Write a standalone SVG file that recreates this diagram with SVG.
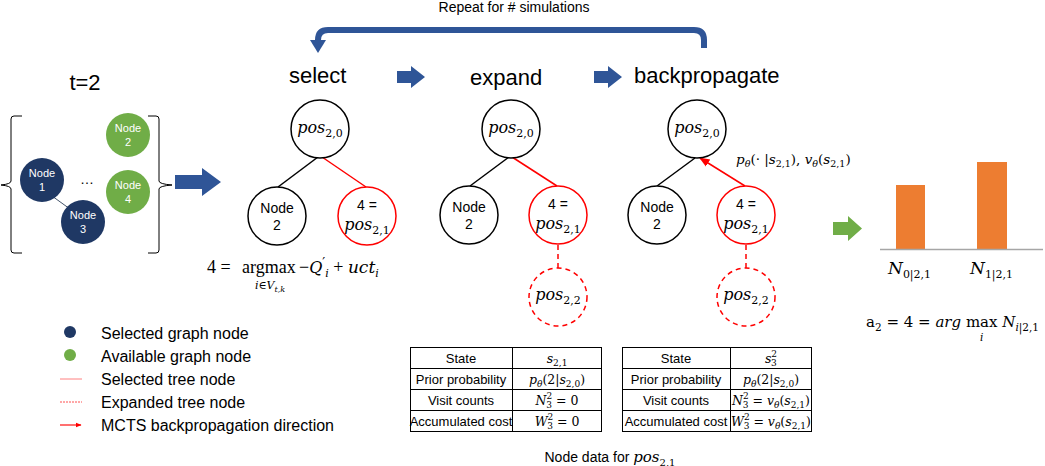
<svg xmlns="http://www.w3.org/2000/svg" width="1045" height="466" viewBox="0 0 1045 466">
<defs>
<style>
.sans{font-family:"Liberation Sans",Arial,sans-serif;fill:#000}
.math{font-family:"DejaVu Serif","Liberation Serif",serif;font-style:italic;fill:#000}
.rm{font-style:normal}
.ser{font-family:"Liberation Serif","Times New Roman",serif;font-style:normal;fill:#000}
.title{font-size:22px}
.tn{fill:#fff;stroke:#000;stroke-width:1.5}
.tr{fill:#fff;stroke:#ff0000;stroke-width:1.5}
.td{fill:#fff;stroke:#ff0000;stroke-width:1.5;stroke-dasharray:5,4}
.edge{stroke:#000;stroke-width:1.5;fill:none}
.redge{stroke:#ff0000;stroke-width:1.5;fill:none}
.gsel{fill:#1f3864}
.gav{fill:#70ad47}
.gt{font-family:"Liberation Sans",Arial,sans-serif;font-size:11px;fill:#fff;text-anchor:middle}
.nt{font-family:"Liberation Sans",Arial,sans-serif;font-size:14px;fill:#000;text-anchor:middle}
.blue{fill:#2f5597}
.tbl{fill:#fff;stroke:#000;stroke-width:1}
.tc{font-family:"Liberation Sans",Arial,sans-serif;font-size:13px;text-anchor:middle}
.tm{font-family:"DejaVu Serif","Liberation Serif",serif;font-style:italic;font-size:12.5px;text-anchor:middle}
.leg{font-family:"Liberation Sans",Arial,sans-serif;font-size:16px;fill:#000}
.pos{font-family:"DejaVu Serif","Liberation Serif",serif;font-style:italic;font-size:16px;text-anchor:middle}
</style>
<marker id="redArr" viewBox="0 0 10 10" refX="9" refY="5" markerWidth="7" markerHeight="7" orient="auto">
<path d="M0,1 L10,5 L0,9 z" fill="#ff0000"/>
</marker>
<marker id="legArr" viewBox="0 0 10 10" refX="9" refY="5" markerWidth="3" markerHeight="3" orient="auto">
<path d="M0,1 L10,5 L0,9 z" fill="#ff0000"/>
</marker>
</defs>
<rect width="1045" height="466" fill="#fff"/>

<!-- top loop arrow -->
<g id="loop">
<text class="sans" x="514" y="12" font-size="14" text-anchor="middle">Repeat for # simulations</text>
<path d="M704,48 V40 Q704,30 694,30 H328 Q318,30 318,40 V42" fill="none" stroke="#2f5597" stroke-width="6"/>
<polygon class="blue" points="310,40 326,40 318,53"/>
</g>

<!-- step titles -->
<g id="titles">
<text class="sans title" x="289" y="83">select</text>
<text class="sans title" x="470" y="85">expand</text>
<text class="sans title" x="634" y="83">backpropagate</text>
<polygon class="blue" points="397,71 411,71 411,66 425,77 411,88 411,83 397,83"/>
<polygon class="blue" points="594,71 608,71 608,66 622,77 608,88 608,83 594,83"/>
</g>

<!-- left graph state -->
<g id="state">
<text class="sans" x="85" y="90" font-size="22" text-anchor="middle">t=2</text>
<path d="M22,116 H14 Q11,116 11,119 V181 Q11,184 1,185 Q11,186 11,189 V250 Q11,253 14,253 H22" fill="none" stroke="#000" stroke-width="1"/>
<path d="M148,116 H156 Q159,116 159,119 V181 Q159,184 172,185 Q159,186 159,189 V250 Q159,253 156,253 H148" fill="none" stroke="#000" stroke-width="1"/>
<line x1="52" y1="196" x2="70" y2="209" stroke="#44546a" stroke-width="1"/>
<text class="sans" x="87" y="184" font-size="14" text-anchor="middle">…</text>
</g>
<g id="gnode1"><circle class="gsel" cx="42" cy="180" r="22"/><text class="gt" x="42" y="177">Node</text><text class="gt" x="42" y="191">1</text></g>
<g id="gnode3"><circle class="gsel" cx="83" cy="222" r="22"/><text class="gt" x="83" y="219">Node</text><text class="gt" x="83" y="233">3</text></g>
<g id="gnode2"><circle class="gav" cx="128" cy="135" r="22"/><text class="gt" x="128" y="132">Node</text><text class="gt" x="128" y="146">2</text></g>
<g id="gnode4"><circle class="gav" cx="128" cy="192" r="22"/><text class="gt" x="128" y="189">Node</text><text class="gt" x="128" y="203">4</text></g>
<g id="bigArrow"><polygon class="blue" points="175,175 202,175 202,168 221,182 202,196 202,189 175,189"/></g>

<!-- connectors -->
<g id="connectors">
<line class="edge" x1="318" y1="157" x2="278" y2="187"/>
<line class="redge" x1="322" y1="157" x2="366" y2="187"/>
<line class="edge" x1="509" y1="157" x2="470" y2="186"/>
<line class="redge" x1="512" y1="157" x2="557" y2="186"/>
<line class="redge" x1="558" y1="245" x2="558" y2="268" stroke-dasharray="5,4"/>
<line class="edge" x1="695" y1="158" x2="657" y2="186"/>
<line class="redge" x1="745" y1="186" x2="700" y2="158" marker-end="url(#redArr)"/>
<line class="redge" x1="746" y1="245" x2="746" y2="268" stroke-dasharray="5,4"/>
<polygon points="833,222 848,222 848,216 862,228.5 848,241 848,235 833,235" fill="#70ad47"/>
</g>

<!-- select tree -->
<g id="sel_root"><circle class="tn" cx="320" cy="129" r="29"/><text class="pos" x="320" y="133">pos<tspan class="rm" font-size="11" dy="4">2,0</tspan></text></g>
<g id="sel_n2"><circle class="tn" cx="277" cy="216" r="29"/><text class="nt" x="277" y="213">Node</text><text class="nt" x="277" y="230">2</text></g>
<g id="sel_n4"><circle class="tr" cx="367" cy="216" r="29"/><text class="nt" x="367" y="210">4 =</text><text class="pos" x="367" y="230">pos<tspan class="rm" font-size="11" dy="4">2,1</tspan></text></g>
<g id="sel_formula">
<text class="ser" x="207" y="273" font-size="18">4 =</text>
<text class="ser" x="242" y="273" font-size="18">argmax</text>
<text class="math" x="299" y="273" font-size="16"><tspan class="ser" font-size="18">−</tspan>Q<tspan class="rm" font-size="13" dy="-6">′</tspan><tspan font-size="11" dx="0" dy="10">i</tspan><tspan class="ser" font-size="18" dy="-4"> + </tspan><tspan font-size="17">uct</tspan><tspan font-size="11" dy="4">i</tspan></text>
<text class="math" x="270" y="289" font-size="11" text-anchor="middle">i<tspan class="rm">∈</tspan>V<tspan font-size="8" dy="3">t,k</tspan></text>
</g>

<!-- expand tree -->
<g id="exp_root"><circle class="tn" cx="511" cy="129" r="29"/><text class="pos" x="511" y="133">pos<tspan class="rm" font-size="11" dy="4">2,0</tspan></text></g>
<g id="exp_n2"><circle class="tn" cx="469" cy="215" r="29"/><text class="nt" x="469" y="212">Node</text><text class="nt" x="469" y="229">2</text></g>
<g id="exp_n4"><circle class="tr" cx="558" cy="215" r="29"/><text class="nt" x="558" y="209">4 =</text><text class="pos" x="558" y="229">pos<tspan class="rm" font-size="11" dy="4">2,1</tspan></text></g>
<g id="exp_n22"><circle class="td" cx="558" cy="297" r="29"/><text class="pos" x="558" y="300">pos<tspan class="rm" font-size="11" dy="4">2,2</tspan></text></g>

<!-- backprop tree -->
<g id="bp_root"><circle class="tn" cx="697" cy="129" r="29"/><text class="pos" x="697" y="133">pos<tspan class="rm" font-size="11" dy="4">2,0</tspan></text></g>
<g id="bp_n2"><circle class="tn" cx="657" cy="215" r="29"/><text class="nt" x="657" y="212">Node</text><text class="nt" x="657" y="229">2</text></g>
<g id="bp_n4"><circle class="tr" cx="746" cy="215" r="29"/><text class="nt" x="746" y="209">4 =</text><text class="pos" x="746" y="229">pos<tspan class="rm" font-size="11" dy="4">2,1</tspan></text></g>
<g id="bp_n22"><circle class="td" cx="746" cy="297" r="29"/><text class="pos" x="746" y="300">pos<tspan class="rm" font-size="11" dy="4">2,2</tspan></text></g>
<g id="bp_label"><text class="math" x="736" y="164" font-size="13.5">p<tspan font-size="9.5" dy="3">θ</tspan><tspan class="rm" dy="-3">(· |</tspan>s<tspan font-size="9.5" class="rm" dy="3">2,1</tspan><tspan class="rm" dy="-3">), </tspan>v<tspan font-size="9.5" dy="3">θ</tspan><tspan class="rm" dy="-3">(</tspan>s<tspan font-size="9.5" class="rm" dy="3">2,1</tspan><tspan class="rm" dy="-3">)</tspan></text></g>

<!-- bar chart -->
<g id="chart">
<rect x="896" y="185" width="29" height="64" fill="#ed7d31"/>
<rect x="977" y="162" width="30" height="87" fill="#ed7d31"/>
<line x1="880" y1="249.5" x2="1043" y2="249.5" stroke="#a6a6a6" stroke-width="1.5"/>
<text class="math" x="888" y="274" font-size="17">N<tspan class="rm" font-size="11" dy="4">0|2,1</tspan></text>
<text class="math" x="970" y="274" font-size="17">N<tspan class="rm" font-size="11" dy="4">1|2,1</tspan></text>
<text class="math" x="866" y="327" font-size="15"><tspan class="rm">a</tspan><tspan class="rm" font-size="10.5" dy="4">2</tspan><tspan class="rm" dy="-4"> = 4 = </tspan>arg<tspan class="rm"> max </tspan>N<tspan font-size="10.5" dy="4">i<tspan class="rm">|2,1</tspan></tspan></text>
<text class="math" x="980" y="341" font-size="10.5">i</text>
</g>

<!-- tables -->
<g id="table1">
<rect class="tbl" x="410.5" y="347.5" width="191" height="84"/>
<line x1="410.5" y1="368.5" x2="601.5" y2="368.5" stroke="#000"/>
<line x1="410.5" y1="389.5" x2="601.5" y2="389.5" stroke="#000"/>
<line x1="410.5" y1="410.5" x2="601.5" y2="410.5" stroke="#000"/>
<line x1="512.5" y1="347.5" x2="512.5" y2="431.5" stroke="#000"/>
<text class="tc" x="461" y="363">State</text>
<text class="tc" x="461" y="384">Prior probability</text>
<text class="tc" x="461" y="405">Visit counts</text>
<text class="tc" x="461" y="426">Accumulated cost</text>
<text class="tm" x="557" y="363">s<tspan class="rm" font-size="9" dy="3">2,1</tspan></text>
<text class="tm" x="557" y="384">p<tspan font-size="9" dy="3">θ</tspan><tspan class="rm" dy="-3">(2|</tspan>s<tspan class="rm" font-size="9" dy="3">2,0</tspan><tspan class="rm" dy="-3">)</tspan></text>
<text class="tm" x="557" y="405">N<tspan class="rm" font-size="9" dy="-6">2</tspan><tspan class="rm" font-size="9" dx="-6" dy="9">3</tspan><tspan class="rm" dy="-3"> = 0</tspan></text>
<text class="tm" x="557" y="426">W<tspan class="rm" font-size="9" dy="-6">2</tspan><tspan class="rm" font-size="9" dx="-6" dy="9">3</tspan><tspan class="rm" dy="-3"> = 0</tspan></text>
</g>
<g id="table2">
<rect class="tbl" x="622.5" y="347.5" width="189" height="84"/>
<line x1="622.5" y1="368.5" x2="811.5" y2="368.5" stroke="#000"/>
<line x1="622.5" y1="389.5" x2="811.5" y2="389.5" stroke="#000"/>
<line x1="622.5" y1="410.5" x2="811.5" y2="410.5" stroke="#000"/>
<line x1="730.5" y1="347.5" x2="730.5" y2="431.5" stroke="#000"/>
<text class="tc" x="676" y="363">State</text>
<text class="tc" x="676" y="384">Prior probability</text>
<text class="tc" x="676" y="405">Visit counts</text>
<text class="tc" x="676" y="426">Accumulated cost</text>
<text class="tm" x="771" y="363">s<tspan class="rm" font-size="9" dy="-6">2</tspan><tspan class="rm" font-size="9" dx="-6" dy="9">3</tspan></text>
<text class="tm" x="771" y="384">p<tspan font-size="9" dy="3">θ</tspan><tspan class="rm" dy="-3">(2|</tspan>s<tspan class="rm" font-size="9" dy="3">2,0</tspan><tspan class="rm" dy="-3">)</tspan></text>
<text class="tm" x="771" y="405">N<tspan class="rm" font-size="9" dy="-6">2</tspan><tspan class="rm" font-size="9" dx="-6" dy="9">3</tspan><tspan class="rm" dy="-3"> = </tspan>v<tspan font-size="9" dy="3">θ</tspan><tspan class="rm" dy="-3">(</tspan>s<tspan class="rm" font-size="9" dy="3">2,1</tspan><tspan class="rm" dy="-3">)</tspan></text>
<text class="tm" x="771" y="426">W<tspan class="rm" font-size="9" dy="-6">2</tspan><tspan class="rm" font-size="9" dx="-6" dy="9">3</tspan><tspan class="rm" dy="-3"> = </tspan>v<tspan font-size="9" dy="3">θ</tspan><tspan class="rm" dy="-3">(</tspan>s<tspan class="rm" font-size="9" dy="3">2,1</tspan><tspan class="rm" dy="-3">)</tspan></text>
<text class="sans" x="610" y="462" font-size="14" text-anchor="middle">Node data for <tspan class="math" font-size="15">pos</tspan><tspan class="math rm" font-size="10" dy="4">2,1</tspan></text>
</g>

<!-- legend -->
<g id="legend">
<circle class="gsel" cx="70" cy="332" r="6"/>
<circle class="gav" cx="70" cy="355" r="6"/>
<line x1="60" y1="379" x2="82" y2="379" stroke="#ff8080" stroke-width="1"/>
<line x1="60" y1="402" x2="82" y2="402" stroke="#ff5050" stroke-width="1" stroke-dasharray="2,1"/>
<line x1="60" y1="425" x2="81" y2="425" stroke="#ff7070" stroke-width="2" marker-end="url(#legArr)"/>
<text class="leg" x="101" y="339">Selected graph node</text>
<text class="leg" x="101" y="362">Available graph node</text>
<text class="leg" x="101" y="385">Selected tree node</text>
<text class="leg" x="101" y="408">Expanded tree node</text>
<text class="leg" x="101" y="431">MCTS backpropagation direction</text>
</g>
</svg>
